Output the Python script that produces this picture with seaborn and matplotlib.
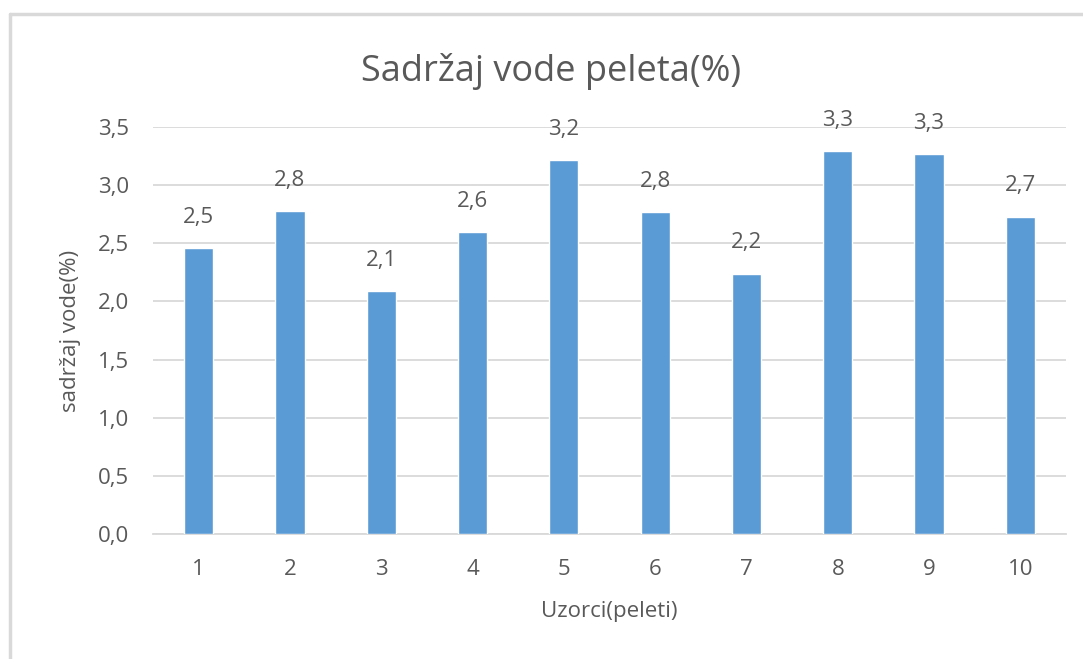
import pandas as pd
import seaborn as sns
import matplotlib.pyplot as plt
from matplotlib.lines import Line2D

samples = ["1", "2", "3", "4", "5", "6", "7", "8", "9", "10"]
water = [2.46, 2.78, 2.09, 2.60, 3.22, 2.77, 2.24, 3.29, 3.27, 2.73]
yticks = [0.0, 0.5, 1.0, 1.5, 2.0, 2.5, 3.0, 3.5]

df = pd.DataFrame({"uzorak": samples, "voda": water})

sns.set_style("white")
plt.rcParams['font.family'] = ['Open Sans', 'DejaVu Sans']
grey = "#595959"

fig = plt.figure(figsize=(10.83, 6.59), dpi=100)
ax = fig.add_axes([153 / 1083, 1 - 534 / 659, 913 / 1083, 407 / 659])

sns.barplot(data=df, x="uzorak", y="voda", color="#5B9BD5", width=0.32,
            saturation=1, ax=ax, zorder=3)

ax.set_ylim(0, 3.5)
ax.set_xlim(-0.5, 9.5)
ax.set_yticks(yticks)
ax.set_yticklabels([f"{v:.1f}".replace(".", ",") for v in yticks])
ax.grid(axis="y", color="#D9D9D9", linewidth=1.3, zorder=0)
for s in ["top", "right", "left"]:
    ax.spines[s].set_visible(False)
ax.spines["bottom"].set_color("#D9D9D9")
ax.spines["bottom"].set_linewidth(1.3)
ax.tick_params(axis="both", length=0, labelsize=16, colors=grey)
ax.tick_params(axis="x", pad=18)
ax.tick_params(axis="y", pad=17)

for i, v in enumerate(water):
    ax.annotate(f"{v:.1f}".replace(".", ","), (i, v), xytext=(0, 22),
                textcoords="offset points", ha="center", va="center",
                fontsize=16, color=grey)

ax.set_xlabel("Uzorci(peleti)", fontsize=16, color=grey, labelpad=15)
ax.set_ylabel("sadržaj vode(%)", fontsize=16, color=grey, labelpad=12)
fig.text(0.509, 1 - 71 / 659, "Sadržaj vode peleta(%)", ha="center",
         va="center", fontsize=26, color=grey)

# outer chart frame (left and top edges visible)
fig.add_artist(Line2D([10 / 1083, 10 / 1083], [0, 1 - 14 / 659],
                      transform=fig.transFigure, color="#D9D9D9", lw=2.5))
fig.add_artist(Line2D([10 / 1083, 1], [1 - 14 / 659, 1 - 14 / 659],
                      transform=fig.transFigure, color="#D9D9D9", lw=2.5))

fig.savefig("out.png", dpi=100)
